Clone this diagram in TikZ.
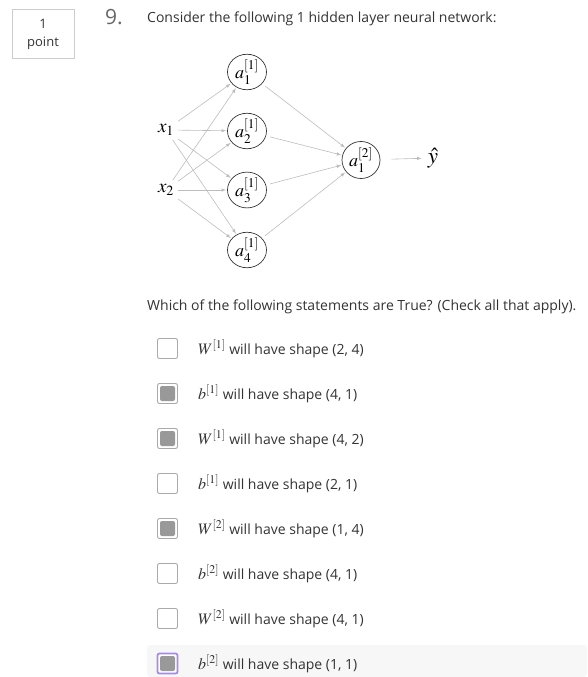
\RequirePackage{fix-cm}
\documentclass[tikz,border=0pt]{standalone}
\usepackage{amsmath}
\usepackage{mathptmx}
\usepackage[no-math]{fontspec}
\setmainfont{Open Sans}
\usepackage{xcolor}
\usepackage{tikz}
\usetikzlibrary{shapes.geometric,arrows}

\definecolor{txtgray}{HTML}{333333}
\definecolor{numgray}{HTML}{666666}
\definecolor{edgegray}{HTML}{BDBDBD}
\definecolor{framegray}{HTML}{CCCCCC}
\definecolor{boxgray}{HTML}{AAAAAA}
\definecolor{fillgray}{HTML}{999999}
\definecolor{bandgray}{HTML}{F7F7F7}
\definecolor{focus}{HTML}{A58BE6}

\newcommand{\ansmath}[1]{{\fontsize{16}{16}\selectfont$#1$}}

\begin{document}
\begin{tikzpicture}[
x=1pt,y=-1pt,
hid/.style={
  draw=black!80,
  ellipse,
  line width=0.7pt,
  inner sep=0pt,
  minimum width=39pt,
  minimum height=31pt,
  font=\fontsize{18}{18}\selectfont
},
outp/.style={
  hid,
  minimum width=38pt,
  minimum height=37pt
},
inp/.style={
  inner sep=4pt,
  font=\fontsize{19}{19}\selectfont
},
edge/.style={
  draw=edgegray,
  line width=0.6pt,
  -latex,
  shorten >=1pt
},
box/.style={
  draw=boxgray,
  line width=0.9pt,
  rounded corners=2pt,
  minimum size=20pt,
  inner sep=0pt,
  fill=white
},
ticked/.style={
  box,
  path picture={\fill[fillgray] ([shift={(2.5pt,2.5pt)}]path picture bounding box.south west) rectangle ([shift={(-2.5pt,-2.5pt)}]path picture bounding box.north east);}
},
answer/.style={
  anchor=west,
  inner sep=0pt,
  text=txtgray,
  font=\fontsize{14}{14}\selectfont
}
]
\useasboundingbox (0,0) rectangle (587,677);

% header
\draw[framegray,line width=0.8pt] (12,9) rectangle (74,58);
\node[text=txtgray,font=\fontsize{13}{13}\selectfont] (pt1) at (43,24) {1};
\node[text=txtgray,font=\fontsize{13}{13}\selectfont] (pt2) at (43,43) {point};
\node[text=numgray,font=\fontsize{21}{21}\selectfont] (num) at (114,17) {9.};
\node[anchor=west,inner sep=0pt,text=txtgray,font=\fontsize{14}{14}\selectfont] (question) at (147,19)
  {Consider the following 1 hidden layer neural network:};

% network
\node[inp] (x1) at (166,130) {$x_1$};
\node[inp] (x2) at (166,190) {$x_2$};
\node[hid] (h1) at (247,72) {$a^{[1]}_1$};
\node[hid] (h2) at (247,131) {$a^{[1]}_2$};
\node[hid] (h3) at (247,190) {$a^{[1]}_3$};
\node[hid] (h4) at (247,250) {$a^{[1]}_4$};
\node[outp] (out) at (361,160) {$a^{[2]}_1$};
\node[inp,inner sep=5pt,font=\fontsize{23}{23}\selectfont] (yhat) at (433,158) {$\hat{y}$};

\draw[edge] (x1) -- (h1);
\draw[edge] (x1) -- (h2);
\draw[edge] (x1) -- (h3);
\draw[edge] (x1) -- (h4);
\draw[edge] (x2) -- (h1);
\draw[edge] (x2) -- (h2);
\draw[edge] (x2) -- (h3);
\draw[edge] (x2) -- (h4);
\draw[edge,shorten <=4pt] (h1) -- (out);
\draw[edge,shorten <=4pt] (h2) -- (out);
\draw[edge,shorten <=4pt] (h3) -- (out);
\draw[edge,shorten <=4pt] (h4) -- (out);
\draw[edge,shorten <=11pt] (out) -- (yhat);

% answers
\node[anchor=west,inner sep=0pt,text=txtgray,font=\fontsize{14}{14}\selectfont] (which) at (147,307)
  {Which of the following statements are True? (Check all that apply).};

\fill[bandgray,rounded corners=3pt] (147,645) rectangle (587,677);

\node[box] (c1) at (167.5,348.5) {};
\node[answer] (l1) at (198,348.5) {\ansmath{W^{[1]}} will have shape (2, 4)};
\node[ticked] (c2) at (167.5,393.5) {};
\node[answer] (l2) at (198,393.5) {\ansmath{b^{[1]}} will have shape (4, 1)};
\node[ticked] (c3) at (167.5,438.5) {};
\node[answer] (l3) at (198,438.5) {\ansmath{W^{[1]}} will have shape (4, 2)};
\node[box] (c4) at (167.5,483.5) {};
\node[answer] (l4) at (198,483.5) {\ansmath{b^{[1]}} will have shape (2, 1)};
\node[ticked] (c5) at (167.5,528.5) {};
\node[answer] (l5) at (198,528.5) {\ansmath{W^{[2]}} will have shape (1, 4)};
\node[box] (c6) at (167.5,573.5) {};
\node[answer] (l6) at (198,573.5) {\ansmath{b^{[2]}} will have shape (4, 1)};
\node[box] (c7) at (167.5,618.5) {};
\node[answer] (l7) at (198,618.5) {\ansmath{W^{[2]}} will have shape (4, 1)};
\node[ticked,draw=focus,line width=1.8pt] (c8) at (167.5,663.5) {};
\node[answer] (l8) at (198,663.5) {\ansmath{b^{[2]}} will have shape (1, 1)};
\end{tikzpicture}
\end{document}
